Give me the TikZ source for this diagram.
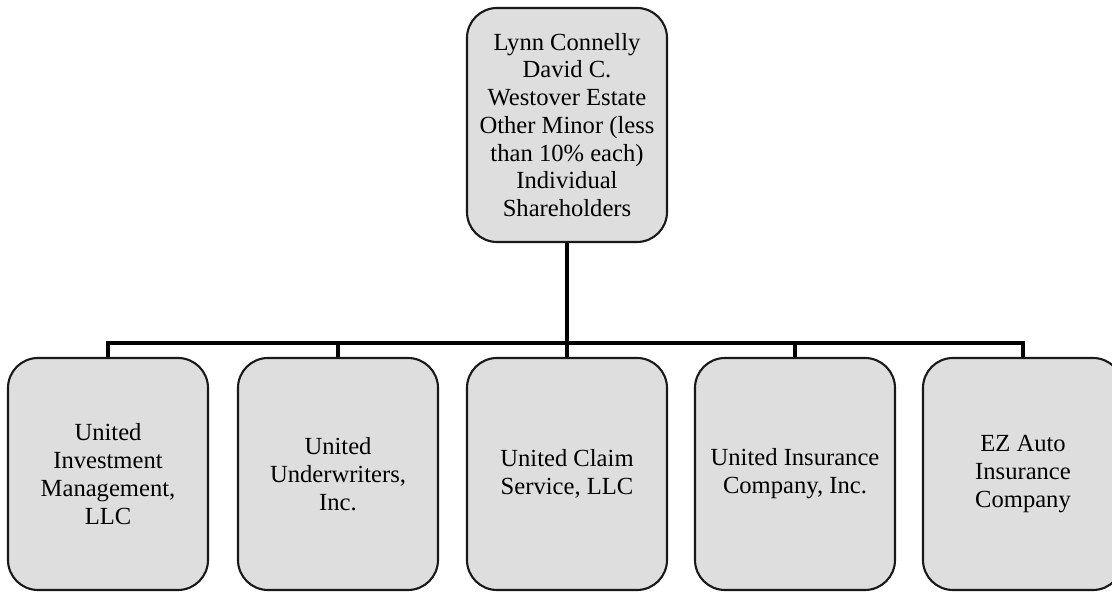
\documentclass[tikz,border=0pt]{standalone}
\usepackage{fontspec}
\setmainfont{Liberation Serif}
\usetikzlibrary{positioning,calc}
\definecolor{relleno}{RGB}{222,222,222}
\definecolor{borde}{RGB}{25,25,25}

\begin{document}
\begin{tikzpicture}[
  caja/.style={draw=borde, line width=1.2pt, fill=relleno, rounded corners=0.6cm,
               minimum width=4cm, align=center, inner sep=0pt,
               font=\fontsize{14}{15.8}\selectfont},
  linea/.style={line width=2.8pt, color=black}]
  \useasboundingbox (0,0) rectangle (22.24,11.84);
  \node[caja, minimum height=4.68cm] (socios) at (11.34,9.34)
    {Lynn Connelly\\David C.\\Westover Estate\\Other Minor (less\\than 10\% each)\\Individual\\Shareholders};
  \node[caja, minimum height=4.64cm] (uim) at (2.16,2.36)
    {United\\Investment\\Management,\\LLC};
  \node[caja, minimum height=4.64cm] (uu) at (6.76,2.36)
    {United\\Underwriters,\\Inc.};
  \node[caja, minimum height=4.64cm] (ucs) at (11.34,2.36)
    {United Claim\\Service, LLC};
  \node[caja, minimum height=4.64cm] (uic) at (15.9,2.36)
    {United Insurance\\Company, Inc.};
  \node[caja, minimum height=4.64cm] (ez) at (20.46,2.36)
    {EZ Auto\\Insurance\\Company};
  \coordinate (bus) at (11.34,4.98);
  \draw[linea] (socios.south) -- (bus);
  \draw[linea] (bus) -| (uim.north);
  \draw[linea] (bus) -| (ez.north);
  \draw[linea] (uu.north) -- (uu.north |- bus);
  \draw[linea] (ucs.north) -- (ucs.north |- bus);
  \draw[linea] (uic.north) -- (uic.north |- bus);
\end{tikzpicture}
\end{document}
